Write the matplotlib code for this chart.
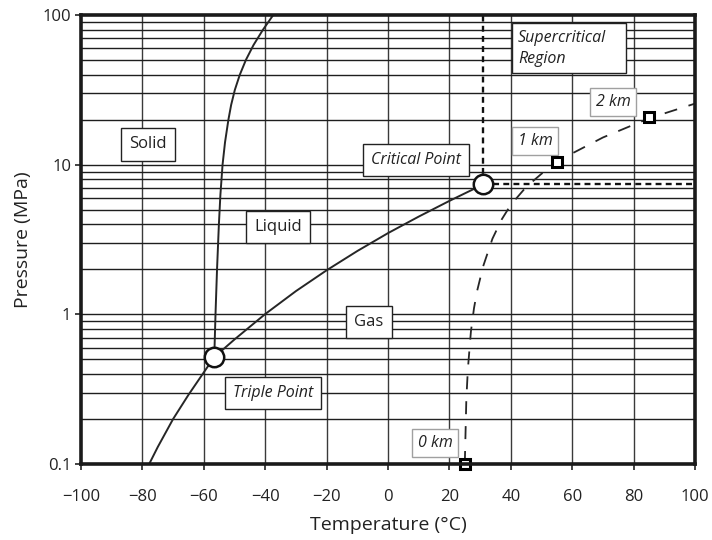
import matplotlib
matplotlib.use("Agg")
import matplotlib.pyplot as plt
from matplotlib.ticker import FixedLocator, NullFormatter
from matplotlib.patches import Rectangle

plt.rcParams['font.family'] = ['Open Sans', 'DejaVu Sans']

# Phase boundaries (T in degC, P in MPa)
melt_T = [-56.6, -56.2, -55.7, -55.1, -54.6, -53.9, -53.1, -52.0, -51.1, -49.9, -48.3, -46.3, -43.8, -40.8, -37.4]
melt_P = [0.518, 1.0, 2.0, 3.98, 6.31, 10.0, 14.1, 19.95, 25.1, 31.6, 39.8, 50.1, 63.1, 79.4, 100.0]

vap_T = [-77.8, -75.0, -70.0, -65.0, -60.0, -56.6, -50.0, -40.0, -30.0, -20.0, -10.0, 0.0, 10.0, 20.0, 25.0, 31.0]
vap_P = [0.100, 0.130, 0.200, 0.290, 0.410, 0.518, 0.680, 1.005, 1.430, 1.970, 2.650, 3.490, 4.500, 5.730, 6.430, 7.380]

triple = (-56.6, 0.518)
critical = (31.0, 7.38)

# Geothermal path
geo_T = [25.0, 25.5, 26.0, 27.0, 28.0, 29.0, 31.0, 34.0, 37.0, 40.0, 45.0, 50.0, 55.0, 60.0, 70.0, 85.0, 100.0]
geo_P = [0.10, 0.27, 0.43, 0.77, 1.10, 1.43, 2.10, 3.20, 4.30, 5.40, 7.10, 8.70, 10.30, 11.90, 15.20, 20.40, 25.60]
depth_T = [25.0, 55.0, 85.0]
depth_P = [0.10, 10.4, 20.8]
depth_labels = ["0 km", "1 km", "2 km"]
depth_label_pos = [(15.3, 0.138), (47.9, 14.4), (73.3, 26.2)]

region_labels = ["Solid", "Liquid", "Gas"]
region_pos = [(-78.2, 13.7), (-35.8, 3.84), (-6.2, 0.89)]

x_ticks = [-100, -80, -60, -40, -20, 0, 20, 40, 60, 80, 100]
y_ticks = [0.1, 1, 10, 100]
y_ticklabels = ["0.1", "1", "10", "100"]

fig = plt.figure(figsize=(7.12, 5.4), dpi=100)
ax = fig.add_axes([0.1138, 0.1407, 0.8624, 0.8315])
ax.set_xlim(-100, 100)
ax.set_yscale('log')
ax.set_ylim(0.1, 100)

# grid
for x in x_ticks[1:-1]:
    ax.axvline(x, color='#3a3a3a', lw=1.0, zorder=1)
minor_y = [m * 10.0 ** e for e in (-1, 0, 1) for m in range(2, 10)]
for y in minor_y + [1, 10]:
    ax.axhline(y, color='#1e1e1e', lw=1.0, zorder=1)

lc = '#262626'
ax.plot(melt_T, melt_P, color=lc, lw=1.4, zorder=3)
ax.plot(vap_T, vap_P, color=lc, lw=1.4, zorder=3)

# critical dotted lines
ax.plot([critical[0], critical[0]], [critical[1], 100], color='#111111', lw=1.7,
        ls=(0, (2.5, 1.8)), zorder=3)
ax.plot([critical[0], 100], [critical[1], critical[1]], color='#111111', lw=1.7,
        ls=(0, (2.5, 1.8)), zorder=3)

# geothermal
ax.plot(geo_T, geo_P, color=lc, lw=1.3, ls=(0, (7.2, 6.6)), zorder=3)
ax.plot(depth_T, depth_P, ls='none', marker='s', ms=7, mfc='white', mec='black',
        mew=2.2, zorder=6, clip_on=False)

# triple & critical points
ax.plot([triple[0], critical[0]], [triple[1], critical[1]], ls='none', marker='o',
        ms=14, mfc='white', mec='#111111', mew=1.8, zorder=6)

box_black = dict(boxstyle='square,pad=0.5', fc='white', ec='#222222', lw=1.0)
box_gray = dict(boxstyle='square,pad=0.35', fc='white', ec='#a0a0a0', lw=1.0)

for lab, (tx, ty) in zip(region_labels, region_pos):
    ax.text(tx, ty, lab, fontsize=12, ha='center', va='center', color='#222222',
            bbox=box_black, zorder=5)

ax.text(-37.5, 0.30, "Triple Point", fontsize=11.5, style='italic', ha='center',
        va='center', color='#222222', bbox=box_black, zorder=5)
ax.text(9.1, 10.7, "Critical Point", fontsize=11.5, style='italic', ha='center',
        va='center', color='#222222', bbox=box_black, zorder=5)

# supercritical region box
ax.add_patch(Rectangle((40.4, 41.0), 37.1, 47.4, fc='white', ec='#222222', lw=1.0, zorder=5))
ax.text(42.3, 59.7, "Supercritical\nRegion", fontsize=11.5, style='italic', ha='left',
        va='center', color='#222222', linespacing=1.35, zorder=5.5)

for lab, (tx, ty) in zip(depth_labels, depth_label_pos):
    ax.text(tx, ty, lab, fontsize=11.5, style='italic', ha='center', va='center',
            color='#222222', bbox=box_gray, zorder=5)

# axes styling
for s in ax.spines.values():
    s.set_linewidth(2.6)
    s.set_color('#1a1a1a')
    s.set_zorder(7)
ax.set_xticks(x_ticks)
ax.set_xticklabels([str(v).replace('-', '\u2212') for v in x_ticks])
ax.yaxis.set_major_locator(FixedLocator(y_ticks))
ax.set_yticklabels(y_ticklabels)
ax.yaxis.set_minor_locator(FixedLocator([]))
ax.yaxis.set_minor_formatter(NullFormatter())
ax.tick_params(axis='both', which='major', direction='out', length=4, width=1.2,
               labelsize=12, colors='#222222')
ax.tick_params(axis='x', pad=14)
ax.tick_params(axis='y', pad=3)
ax.set_xlabel("Temperature (\u00b0C)", fontsize=14, color='#222222', labelpad=8)
ax.set_ylabel("Pressure (MPa)", fontsize=14, color='#222222', labelpad=8)

fig.savefig("out.png", dpi=100)
